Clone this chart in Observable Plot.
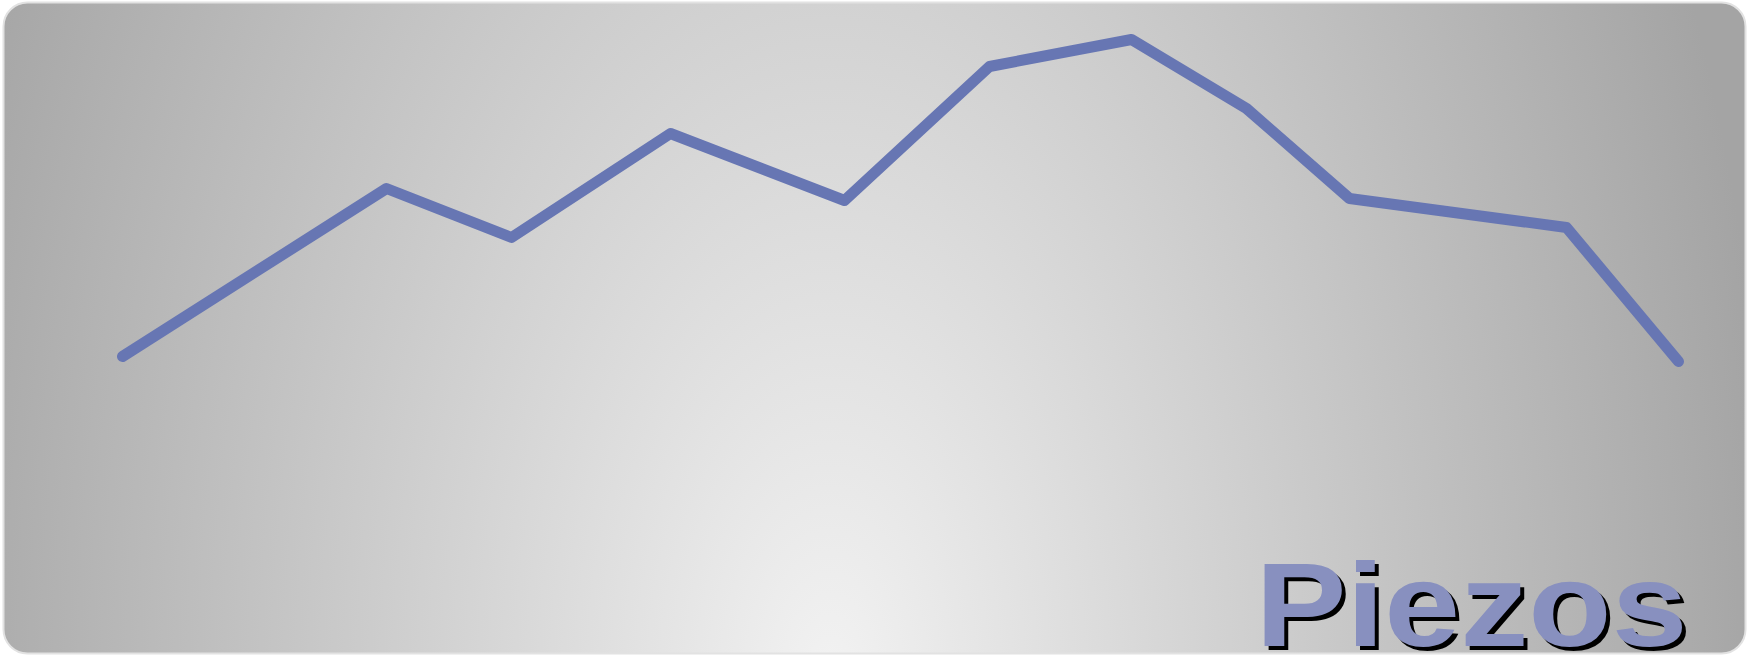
<!DOCTYPE html>
<html>
<head>
<meta charset="utf-8">
<script src="https://cdn.jsdelivr.net/npm/d3@7"></script>
<script src="https://cdn.jsdelivr.net/npm/@observablehq/plot@0.6"></script>
<style>
  html, body { margin: 0; padding: 0; background: #ffffff; }
  #chart svg { display: block; }
</style>
</head>
<body>
<div id="chart"></div>
<script>
// Series (horizontal position, level)
const positions = [122, 386, 511, 670, 844, 989, 1131, 1246, 1349, 1566, 1678];
const levels    = [299, 467, 418, 522, 455, 589, 616, 547, 457, 428, 294];
const titleText = ["Piezos"];

const data = positions.map((p, i) => ({p, v: levels[i]}));

const W = 1747, H = 655;

const textStyle = {
  text: d => d,
  frameAnchor: "bottom-right",
  textAnchor: "end",
  lineAnchor: "top",
  fontSize: 118,
  fontWeight: "bold",
  fontFamily: "Liberation Sans, Arial, sans-serif"
};

const svg = Plot.plot({
  width: W,
  height: H,
  margin: 0,
  style: {background: "transparent", overflow: "visible"},
  x: {domain: [0, W], axis: null},
  y: {domain: [0, H], axis: null},
  marks: [
    Plot.frame({
      fill: "url(#piezosBg)",
      stroke: "#e2e2e2",
      strokeWidth: 2,
      rx: 24,
      insetLeft: 3, insetTop: 2, insetRight: 2, insetBottom: 2
    }),
    Plot.line(data, {
      x: "p", y: "v",
      stroke: "#6776b3",
      strokeWidth: 11,
      strokeLinecap: "round",
      strokeLinejoin: "round"
    }),
    Plot.text(titleText, {...textStyle, fill: "#000000", dx: -56, dy: -89}),
    Plot.text(titleText, {...textStyle, fill: "#8890bf", dx: -60, dy: -93})
  ]
});

const s = d3.select(svg);
const defs = s.insert("defs", ":first-child");
const g = defs.append("radialGradient")
  .attr("id", "piezosBg")
  .attr("gradientUnits", "userSpaceOnUse")
  .attr("cx", 0).attr("cy", 0).attr("r", 1)
  .attr("gradientTransform", "translate(830,680) scale(945,1660)");
g.append("stop").attr("offset", 0).attr("stop-color", "#f2f2f2");
g.append("stop").attr("offset", 1).attr("stop-color", "#a4a4a4");

s.selectAll("text")
  .attr("textLength", 432)
  .attr("lengthAdjust", "spacingAndGlyphs");

document.getElementById("chart").appendChild(svg);
</script>
</body>
</html>
